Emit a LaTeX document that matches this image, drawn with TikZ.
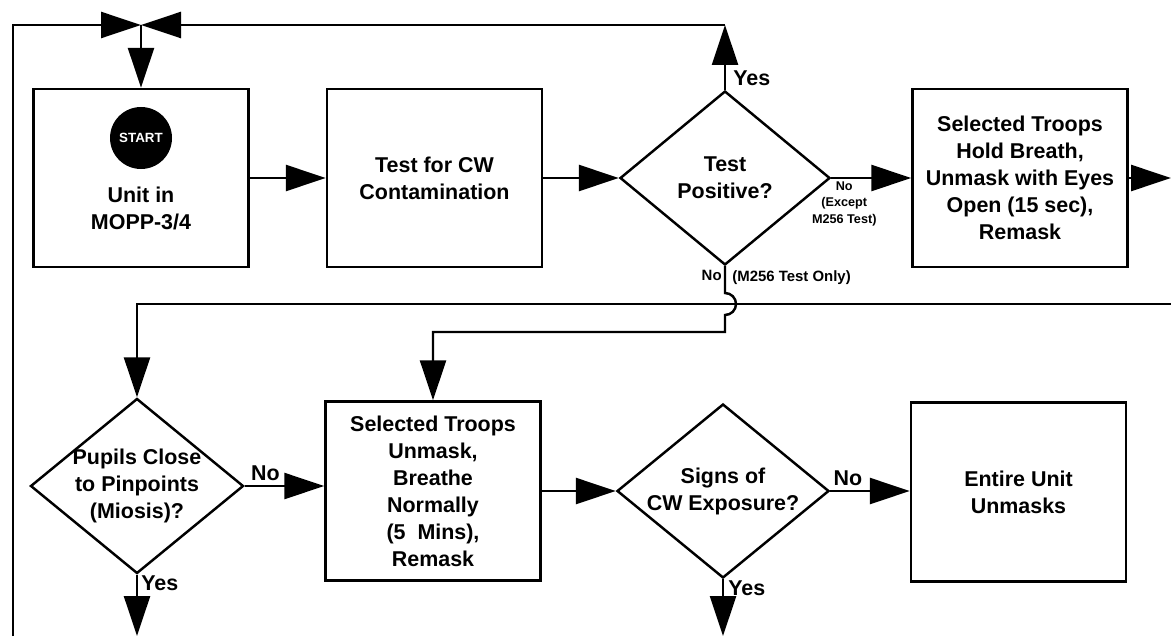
\documentclass[tikz,border=0pt]{standalone}
\usepackage{fontspec}
\setmainfont{Liberation Sans}
\usetikzlibrary{shapes.geometric,arrows.meta}

\tikzset{
  box/.style={draw, line width=1.4pt, minimum width=4.3cm, minimum height=3.56cm, inner sep=0pt},
  dec/.style={draw, diamond, line width=1.4pt, inner sep=0pt},
  txt/.style={align=center, font=\bfseries\fontsize{12.2}{15.37}\selectfont},
  lbl/.style={inner sep=0pt, font=\bfseries\fontsize{12.2}{14}\selectfont},
  sml/.style={inner sep=0pt, align=center, font=\bfseries\fontsize{8.5}{10}\selectfont},
  tiny/.style={inner sep=0pt, align=center, font=\bfseries\fontsize{7.2}{9.5}\selectfont},
  flow/.style={line width=1.4pt, -{Triangle[length=0.8cm,width=0.52cm]}},
  startdot/.style={circle, fill=black, text=white, minimum size=1.24cm, inner sep=0pt,
    font=\bfseries\fontsize{7.6}{9}\selectfont},
}

\begin{document}
\begin{tikzpicture}
  \useasboundingbox (0,0) rectangle (23.42,12.72);

  % top row
  \node[box] (b1) at (2.82,9.16) {};
  \node[startdot] (start) at ([yshift=0.8cm]b1.center) {START};
  \node[txt] (b1t) at ([yshift=-0.6cm]b1.center) {Unit in\\MOPP-3/4};
  \node[box, txt] (b2) at (8.69,9.16) {Test for CW\\Contamination};
  \node[dec, minimum width=4.2cm, minimum height=3.48cm] (d1) at (14.50,9.16) {};
  \node[txt] (d1t) at (d1) {Test\\Positive?};
  \node[box, txt] (b3) at (20.40,9.16) {Selected Troops\\Hold Breath,\\Unmask with Eyes\\Open (15 sec),\\Remask};

  % bottom row
  \node[dec, minimum width=4.26cm, minimum height=3.5cm] (d2) at (2.74,3.0) {};
  \node[txt] (d2t) at (d2) {Pupils Close\\to Pinpoints\\(Miosis)?};
  \node[box, txt, minimum height=3.58cm] (b4) at (8.66,2.90) {Selected Troops\\Unmask,\\Breathe\\Normally\\(5~~Mins),\\Remask};
  \node[dec, minimum width=4.24cm, minimum height=3.48cm] (d3) at (14.46,2.90) {};
  \node[txt] (d3t) at (d3) {Signs of\\CW Exposure?};
  \node[box, txt, minimum height=3.58cm] (b5) at (20.37,2.88) {Entire Unit\\Unmasks};

  % loose ends and corners
  \coordinate (j) at (2.82,12.22);
  \coordinate (c1) at (14.50,12.22);
  \coordinate (lb) at (0.26,0);
  \coordinate (re1) at (23.42,9.16);
  \coordinate (re2) at (23.42,6.64);
  \coordinate (hop) at (14.50,6.86);
  \coordinate (turn) at (14.50,6.08);
  \coordinate (y2) at (2.74,0);
  \coordinate (y3) at (14.46,0);

  % connectors
  \draw[flow] (b1) -- (b2);
  \draw[flow] (b2) -- (d1);
  \draw[flow] (d1) -- (b3);
  \draw[flow] (b3) -- (re1);
  \draw[flow] (d1.north) -- (c1);
  \draw[flow] (c1) -- (j);
  \draw[flow] (lb) |- (j);
  \draw[flow] (j) -- (b1);
  \draw[flow] (d1.south) -- (hop) arc[start angle=90, end angle=-90, radius=0.22cm] -- (turn) -| (b4);
  \draw[flow] (re2) -| (d2);
  \draw[flow] (d2.east) -- (d2.east -| b4.west);
  \draw[flow] (b4) -- (d3);
  \draw[flow] (d3.east) -- (d3.east -| b5.west);
  \draw[flow] (d2.south) -- (y2);
  \draw[flow] (d3.south) -- (y3);

  % labels
  \node[lbl, anchor=base west] (yes1) at ([xshift=0.16cm,yshift=0.08cm]d1.north) {Yes};
  \node[sml, anchor=north east] (no1) at ([xshift=-0.06cm,yshift=-0.08cm]d1.south) {No};
  \node[sml, anchor=north west] (no1b) at ([xshift=0.14cm,yshift=-0.08cm]d1.south) {(M256 Test Only)};
  \node[tiny, anchor=north] (no2) at ([xshift=0.26cm,yshift=-0.06cm]d1.east) {No\\(Except\\M256 Test)};
  \node[lbl, anchor=south west] (no3) at ([xshift=0.12cm,yshift=0.1cm]d2.east) {No};
  \node[lbl, anchor=north west] (yes2) at ([xshift=0.08cm,yshift=-0.02cm]d2.south) {Yes};
  \node[lbl, anchor=south west] (no4) at ([xshift=0.06cm,yshift=0.1cm]d3.east) {No};
  \node[lbl, anchor=north west] (yes3) at ([xshift=0.1cm,yshift=-0.02cm]d3.south) {Yes};
\end{tikzpicture}
\end{document}
